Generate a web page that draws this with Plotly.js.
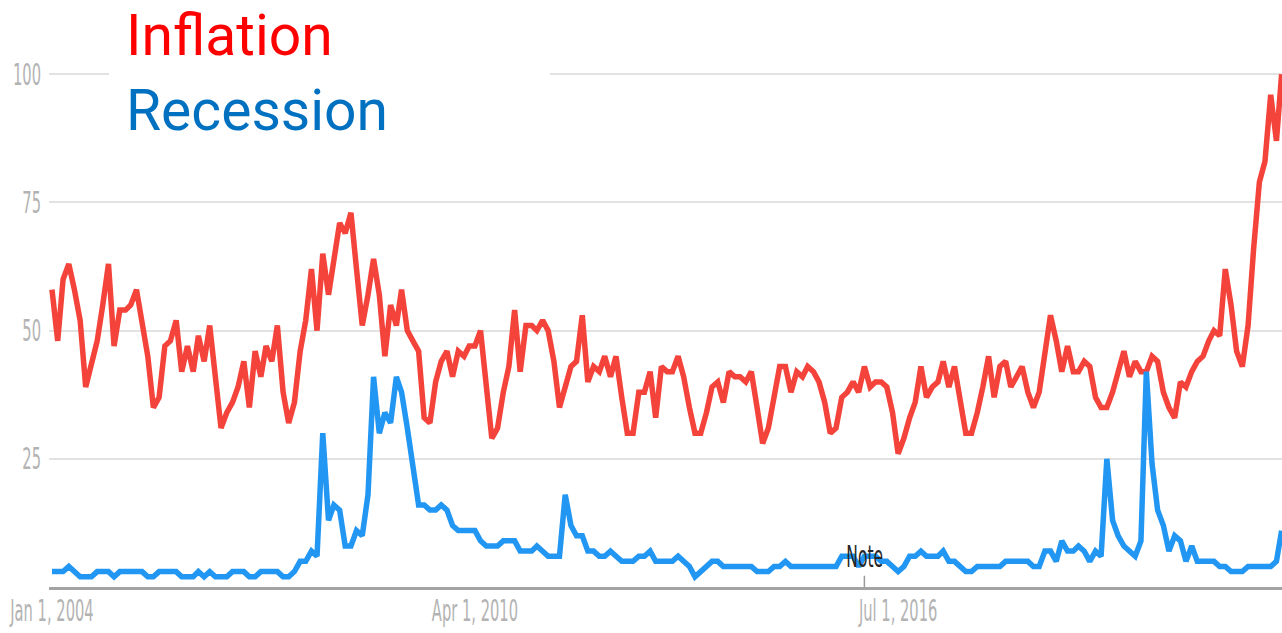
<!DOCTYPE html>
<html>
<head>
<meta charset="utf-8">
<script src="https://cdn.plot.ly/plotly-3.0.1.min.js"></script>
<style>
  html, body { margin: 0; padding: 0; background: #ffffff; }
  #chart { width: 1282px; height: 633px; }
</style>
</head>
<body>
<div id="chart"></div>
<script>
// Monthly search interest, Jan 2004 - Mar 2022
const startYear = 2004;
const startMonth = 1;

const inflation = [
  58, 48, 60, 63, 58, 52, 39, 44, 48, 55, 63, 47,   // 2004
  54, 54, 55, 58, 52, 45, 35, 37, 47, 48, 52, 42,   // 2005
  47, 42, 49, 44, 51, 41, 31, 34, 36, 39, 44, 35,   // 2006
  46, 41, 47, 44, 51, 38, 32, 36, 46, 52, 62, 50,   // 2007
  65, 57, 64, 71, 69, 73, 62, 51, 57, 64, 57, 45,   // 2008
  55, 51, 58, 50, 48, 46, 33, 32, 40, 44, 46, 41,   // 2009
  46, 45, 47, 47, 50, 39, 29, 31, 38, 43, 54, 42,   // 2010
  51, 51, 50, 52, 50, 44, 35, 39, 43, 44, 53, 40,   // 2011
  43, 42, 45, 41, 45, 37, 30, 30, 38, 38, 42, 33,   // 2012
  43, 42, 42, 45, 41, 35, 30, 30, 34, 39, 40, 36,   // 2013
  42, 41, 41, 40, 42, 35, 28, 31, 37, 43, 43, 38,   // 2014
  42, 41, 43, 42, 40, 36, 30, 31, 37, 38, 40, 38,   // 2015
  43, 39, 40, 40, 39, 34, 26, 29, 33, 36, 43, 37,   // 2016
  39, 40, 44, 39, 43, 37, 30, 30, 34, 39, 45, 37,   // 2017
  43, 44, 39, 41, 43, 38, 35, 38, 46, 53, 48, 42,   // 2018
  47, 42, 42, 44, 43, 37, 35, 35, 38, 42, 46, 41,   // 2019
  44, 42, 42, 45, 44, 38, 35, 33, 40, 39, 42, 44,   // 2020
  45, 48, 50, 49, 62, 55, 46, 43, 51, 66, 79, 83,   // 2021
  96, 87, 100                                        // 2022
];

const recession = [
  3, 3, 3, 4, 3, 2, 2, 2, 3, 3, 3, 2,               // 2004
  3, 3, 3, 3, 3, 2, 2, 3, 3, 3, 3, 2,               // 2005
  2, 2, 3, 2, 3, 2, 2, 2, 3, 3, 3, 2,               // 2006
  2, 3, 3, 3, 3, 2, 2, 3, 5, 5, 7, 6,               // 2007
  30, 13, 16, 15, 8, 8, 11, 10, 18, 41, 30, 34,     // 2008
  32, 41, 38, 31, 23, 16, 16, 15, 15, 16, 15, 12,   // 2009
  11, 11, 11, 11, 9, 8, 8, 8, 9, 9, 9, 7,           // 2010
  7, 7, 8, 7, 6, 6, 6, 18, 12, 10, 10, 7,           // 2011
  7, 6, 6, 7, 6, 5, 5, 5, 6, 6, 7, 5,               // 2012
  5, 5, 5, 6, 5, 4, 2, 3, 4, 5, 5, 4,               // 2013
  4, 4, 4, 4, 4, 3, 3, 3, 4, 4, 5, 4,               // 2014
  4, 4, 4, 4, 4, 4, 4, 4, 6, 6, 6, 4,               // 2015
  6, 6, 6, 5, 5, 4, 3, 4, 6, 6, 7, 6,               // 2016
  6, 6, 7, 5, 5, 4, 3, 3, 4, 4, 4, 4,               // 2017
  4, 5, 5, 5, 5, 5, 4, 4, 7, 7, 5, 9,               // 2018
  7, 7, 8, 7, 5, 7, 6, 25, 13, 10, 8, 7,            // 2019
  6, 9, 42, 24, 15, 12, 7, 10, 9, 5, 8, 5,          // 2020
  5, 5, 5, 4, 4, 3, 3, 3, 4, 4, 4, 4,               // 2021
  4, 5, 11                                          // 2022
];

const tickDates = ['2004-01-01', '2010-04-01', '2016-07-01'];
const tickLabels = ['Jan 1, 2004', 'Apr 1, 2010', 'Jul 1, 2016'];
const yTicks = [25, 50, 75, 100];
const noteDate = '2016-01-01';
const seriesNames = ['Inflation', 'Recession'];

function pad(n) { return (n < 10 ? '0' : '') + n; }
const months = inflation.map((_, i) => {
  const m = startMonth - 1 + i;
  const y = startYear + Math.floor(m / 12);
  return y + '-' + pad((m % 12) + 1) + '-01';
});

const axisFont = { family: '"DejaVu Sans", sans-serif', size: 30, color: '#b3b3b3' };

const traces = [
  {
    x: months, y: inflation, name: seriesNames[0], type: 'scatter', mode: 'lines',
    line: { color: '#f4433a', width: 5.5 }, hoverinfo: 'skip'
  },
  {
    x: months, y: recession, name: seriesNames[1], type: 'scatter', mode: 'lines',
    line: { color: '#2196f3', width: 5.5 }, hoverinfo: 'skip'
  }
];

const layout = {
  width: 1282, height: 633,
  margin: { l: 49, r: 0, t: 64, b: 46, pad: 0 },
  paper_bgcolor: '#ffffff', plot_bgcolor: '#ffffff',
  showlegend: false,
  xaxis: {
    type: 'date',
    range: ['2003-12-16', '2022-03-03'],
    tickmode: 'array', tickvals: tickDates, ticktext: tickLabels,
    showgrid: false, zeroline: false,
    showline: true, linecolor: '#a3a3a3', linewidth: 3,
    ticks: '', tickfont: axisFont, ticklabelstandoff: -5,
    ticklabeloverflow: 'allow'
  },
  yaxis: {
    range: [0, 102],
    tickmode: 'array', tickvals: yTicks, ticktext: yTicks.map(String),
    showgrid: true, gridcolor: '#e2e2e2', gridwidth: 2,
    zeroline: false, showline: false,
    ticks: '', tickfont: axisFont, ticklabelstandoff: 7,
    ticklabeloverflow: 'allow'
  },
  shapes: [
    { type: 'rect', xref: 'paper', yref: 'y', x0: 0.0487, x1: 0.4063, y0: 96, y1: 102,
      fillcolor: '#ffffff', line: { width: 0 }, layer: 'above' },
    { type: 'line', xref: 'x', yref: 'y', x0: noteDate, x1: noteDate, y0: 0, y1: 2.2,
      line: { color: '#9a9a9a', width: 1.5 }, layer: 'above' }
  ],
  annotations: [
    { text: seriesNames[0], xref: 'paper', yref: 'paper', x: 0.0608, y: 1.0537,
      xanchor: 'left', yanchor: 'middle', showarrow: false,
      font: { family: 'Roboto, sans-serif', size: 57, color: '#ff0000' } },
    { text: seriesNames[1], xref: 'paper', yref: 'paper', x: 0.0608, y: 0.9115,
      xanchor: 'left', yanchor: 'middle', showarrow: false,
      font: { family: 'Roboto, sans-serif', size: 57, color: '#0070c0' } },
    { text: 'Note', xref: 'x', yref: 'y', x: noteDate, y: 6.0,
      xanchor: 'center', yanchor: 'middle', showarrow: false,
      font: { family: '"DejaVu Sans", sans-serif', size: 31, color: '#262626' } }
  ]
};

// Narrow the label glyphs horizontally, as in the squeezed original screenshot
function squeeze(el, sx) {
  const X = parseFloat(el.getAttribute('x')) || 0;
  const old = el.getAttribute('transform') || '';
  el.setAttribute('transform', old + ' translate(' + X + ',0) scale(' + sx + ',1) translate(' + (-X) + ',0)');
}

Plotly.newPlot('chart', traces, layout, { staticPlot: true, displayModeBar: false }).then(function (gd) {
  gd.querySelectorAll('.xtick text, .ytick text').forEach(function (t) { squeeze(t, 0.49); });
  gd.querySelectorAll('.annotation-text').forEach(function (t) {
    if (t.textContent === 'Note') squeeze(t, 0.5);
  });
});
</script>
</body>
</html>
